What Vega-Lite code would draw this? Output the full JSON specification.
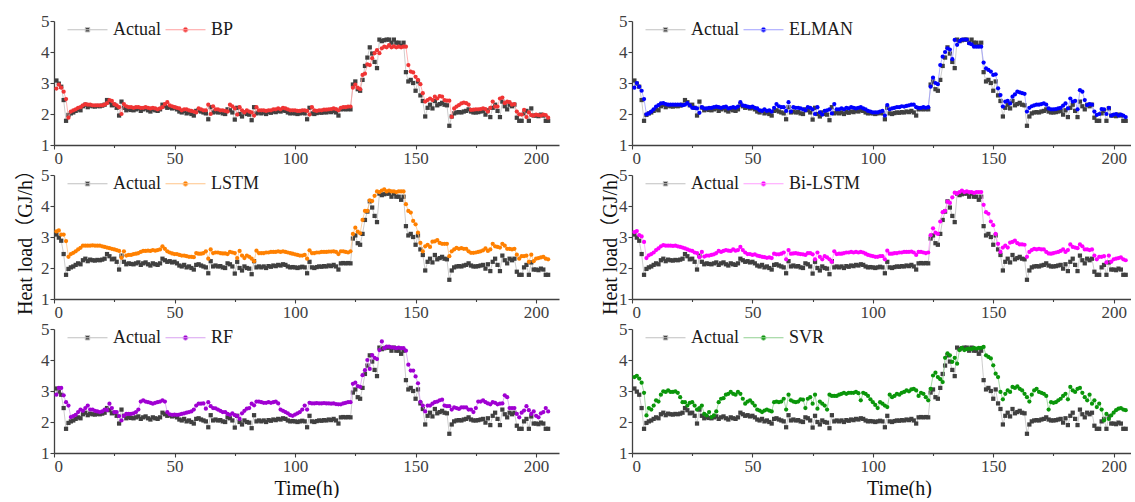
{
"$schema": "https://vega.github.io/schema/vega-lite/v6.json",
"background": "white",
"padding": {"left": 15, "top": 9, "right": 0, "bottom": 0},
"bounds": "flush",
"columns": 2,
"spacing": {"row": 30, "column": 73},
"data": {"values": [
{"t":1,"Actual":3.08,"BP":2.82,"ELMAN":2.85,"LSTM":3.18,"BiLSTM":3.16,"RF":2.88,"SVR":3.45},
{"t":2,"Actual":2.98,"BP":2.95,"ELMAN":3.00,"LSTM":3.21,"BiLSTM":3.19,"RF":3.10,"SVR":3.49},
{"t":3,"Actual":2.88,"BP":2.85,"ELMAN":2.88,"LSTM":3.08,"BiLSTM":3.06,"RF":3.10,"SVR":3.40},
{"t":4,"Actual":2.45,"BP":2.72,"ELMAN":2.75,"LSTM":3.08,"BiLSTM":3.02,"RF":2.86,"SVR":3.27},
{"t":5,"Actual":1.78,"BP":2.48,"ELMAN":2.48,"LSTM":2.87,"BiLSTM":2.84,"RF":2.64,"SVR":2.94},
{"t":6,"Actual":1.97,"BP":1.88,"ELMAN":1.99,"LSTM":2.36,"BiLSTM":2.32,"RF":2.53,"SVR":2.21},
{"t":7,"Actual":2.02,"BP":2.08,"ELMAN":2.02,"LSTM":2.45,"BiLSTM":2.41,"RF":2.16,"SVR":2.45},
{"t":8,"Actual":2.05,"BP":2.12,"ELMAN":2.08,"LSTM":2.49,"BiLSTM":2.45,"RF":2.19,"SVR":2.40},
{"t":9,"Actual":2.10,"BP":2.15,"ELMAN":2.15,"LSTM":2.54,"BiLSTM":2.50,"RF":2.23,"SVR":2.53},
{"t":10,"Actual":2.15,"BP":2.20,"ELMAN":2.24,"LSTM":2.60,"BiLSTM":2.58,"RF":2.32,"SVR":2.70},
{"t":11,"Actual":2.12,"BP":2.22,"ELMAN":2.29,"LSTM":2.65,"BiLSTM":2.63,"RF":2.40,"SVR":2.66},
{"t":12,"Actual":2.25,"BP":2.28,"ELMAN":2.34,"LSTM":2.72,"BiLSTM":2.70,"RF":2.36,"SVR":2.88},
{"t":13,"Actual":2.30,"BP":2.32,"ELMAN":2.35,"LSTM":2.72,"BiLSTM":2.74,"RF":2.45,"SVR":2.99},
{"t":14,"Actual":2.22,"BP":2.30,"ELMAN":2.32,"LSTM":2.72,"BiLSTM":2.72,"RF":2.53,"SVR":2.97},
{"t":15,"Actual":2.27,"BP":2.30,"ELMAN":2.30,"LSTM":2.72,"BiLSTM":2.72,"RF":2.40,"SVR":3.02},
{"t":16,"Actual":2.25,"BP":2.28,"ELMAN":2.30,"LSTM":2.73,"BiLSTM":2.72,"RF":2.40,"SVR":2.97},
{"t":17,"Actual":2.24,"BP":2.28,"ELMAN":2.30,"LSTM":2.72,"BiLSTM":2.71,"RF":2.36,"SVR":2.97},
{"t":18,"Actual":2.26,"BP":2.28,"ELMAN":2.30,"LSTM":2.72,"BiLSTM":2.72,"RF":2.34,"SVR":2.99},
{"t":19,"Actual":2.25,"BP":2.28,"ELMAN":2.30,"LSTM":2.72,"BiLSTM":2.70,"RF":2.32,"SVR":2.94},
{"t":20,"Actual":2.27,"BP":2.28,"ELMAN":2.30,"LSTM":2.70,"BiLSTM":2.68,"RF":2.34,"SVR":2.80},
{"t":21,"Actual":2.30,"BP":2.30,"ELMAN":2.28,"LSTM":2.68,"BiLSTM":2.66,"RF":2.40,"SVR":2.64},
{"t":22,"Actual":2.45,"BP":2.35,"ELMAN":2.30,"LSTM":2.66,"BiLSTM":2.63,"RF":2.38,"SVR":2.64},
{"t":23,"Actual":2.38,"BP":2.45,"ELMAN":2.35,"LSTM":2.64,"BiLSTM":2.60,"RF":2.59,"SVR":2.53},
{"t":24,"Actual":2.28,"BP":2.42,"ELMAN":2.28,"LSTM":2.62,"BiLSTM":2.57,"RF":2.45,"SVR":2.62},
{"t":25,"Actual":2.30,"BP":2.32,"ELMAN":2.20,"LSTM":2.60,"BiLSTM":2.55,"RF":2.32,"SVR":2.64},
{"t":26,"Actual":2.20,"BP":2.28,"ELMAN":2.20,"LSTM":2.58,"BiLSTM":2.50,"RF":2.32,"SVR":2.53},
{"t":27,"Actual":1.95,"BP":2.22,"ELMAN":2.18,"LSTM":2.55,"BiLSTM":2.48,"RF":2.19,"SVR":2.40},
{"t":28,"Actual":2.40,"BP":2.00,"ELMAN":2.04,"LSTM":2.33,"BiLSTM":2.35,"RF":2.05,"SVR":2.45},
{"t":29,"Actual":2.20,"BP":2.32,"ELMAN":2.22,"LSTM":2.54,"BiLSTM":2.52,"RF":2.20,"SVR":2.53},
{"t":30,"Actual":2.12,"BP":2.25,"ELMAN":2.18,"LSTM":2.40,"BiLSTM":2.37,"RF":2.26,"SVR":2.26},
{"t":31,"Actual":2.15,"BP":2.22,"ELMAN":2.18,"LSTM":2.42,"BiLSTM":2.40,"RF":2.26,"SVR":2.21},
{"t":32,"Actual":2.13,"BP":2.22,"ELMAN":2.20,"LSTM":2.42,"BiLSTM":2.40,"RF":2.26,"SVR":2.32},
{"t":33,"Actual":2.12,"BP":2.20,"ELMAN":2.20,"LSTM":2.45,"BiLSTM":2.42,"RF":2.28,"SVR":2.16},
{"t":34,"Actual":2.15,"BP":2.22,"ELMAN":2.22,"LSTM":2.46,"BiLSTM":2.44,"RF":2.32,"SVR":2.21},
{"t":35,"Actual":2.18,"BP":2.22,"ELMAN":2.24,"LSTM":2.48,"BiLSTM":2.48,"RF":2.40,"SVR":2.34},
{"t":36,"Actual":2.10,"BP":2.20,"ELMAN":2.22,"LSTM":2.52,"BiLSTM":2.55,"RF":2.66,"SVR":2.64},
{"t":37,"Actual":2.15,"BP":2.20,"ELMAN":2.20,"LSTM":2.55,"BiLSTM":2.52,"RF":2.70,"SVR":2.75},
{"t":38,"Actual":2.18,"BP":2.22,"ELMAN":2.22,"LSTM":2.55,"BiLSTM":2.55,"RF":2.66,"SVR":2.77},
{"t":39,"Actual":2.12,"BP":2.20,"ELMAN":2.24,"LSTM":2.56,"BiLSTM":2.58,"RF":2.64,"SVR":2.88},
{"t":40,"Actual":2.08,"BP":2.18,"ELMAN":2.18,"LSTM":2.55,"BiLSTM":2.56,"RF":2.62,"SVR":2.91},
{"t":41,"Actual":2.15,"BP":2.20,"ELMAN":2.20,"LSTM":2.58,"BiLSTM":2.55,"RF":2.59,"SVR":2.97},
{"t":42,"Actual":2.12,"BP":2.18,"ELMAN":2.22,"LSTM":2.56,"BiLSTM":2.60,"RF":2.62,"SVR":2.91},
{"t":43,"Actual":2.10,"BP":2.15,"ELMAN":2.20,"LSTM":2.58,"BiLSTM":2.56,"RF":2.64,"SVR":2.88},
{"t":44,"Actual":2.15,"BP":2.18,"ELMAN":2.24,"LSTM":2.60,"BiLSTM":2.58,"RF":2.66,"SVR":2.97},
{"t":45,"Actual":2.30,"BP":2.22,"ELMAN":2.38,"LSTM":2.70,"BiLSTM":2.68,"RF":2.70,"SVR":2.91},
{"t":46,"Actual":2.25,"BP":2.32,"ELMAN":2.28,"LSTM":2.62,"BiLSTM":2.58,"RF":2.66,"SVR":2.75},
{"t":47,"Actual":2.20,"BP":2.38,"ELMAN":2.26,"LSTM":2.54,"BiLSTM":2.50,"RF":2.32,"SVR":2.59},
{"t":48,"Actual":2.22,"BP":2.28,"ELMAN":2.24,"LSTM":2.50,"BiLSTM":2.45,"RF":2.25,"SVR":2.66},
{"t":49,"Actual":2.18,"BP":2.25,"ELMAN":2.22,"LSTM":2.47,"BiLSTM":2.45,"RF":2.23,"SVR":2.70},
{"t":50,"Actual":2.20,"BP":2.22,"ELMAN":2.24,"LSTM":2.45,"BiLSTM":2.42,"RF":2.24,"SVR":2.62},
{"t":51,"Actual":2.15,"BP":2.20,"ELMAN":2.20,"LSTM":2.45,"BiLSTM":2.44,"RF":2.23,"SVR":2.53},
{"t":52,"Actual":2.08,"BP":2.18,"ELMAN":2.18,"LSTM":2.42,"BiLSTM":2.40,"RF":2.24,"SVR":2.40},
{"t":53,"Actual":2.05,"BP":2.12,"ELMAN":2.12,"LSTM":2.40,"BiLSTM":2.38,"RF":2.26,"SVR":2.37},
{"t":54,"Actual":2.10,"BP":2.15,"ELMAN":2.10,"LSTM":2.40,"BiLSTM":2.36,"RF":2.28,"SVR":2.32},
{"t":55,"Actual":2.02,"BP":2.15,"ELMAN":2.15,"LSTM":2.38,"BiLSTM":2.35,"RF":2.30,"SVR":2.37},
{"t":56,"Actual":2.05,"BP":2.12,"ELMAN":2.10,"LSTM":2.36,"BiLSTM":2.33,"RF":2.32,"SVR":2.40},
{"t":57,"Actual":2.00,"BP":2.10,"ELMAN":2.12,"LSTM":2.36,"BiLSTM":2.34,"RF":2.34,"SVR":2.37},
{"t":58,"Actual":1.95,"BP":2.08,"ELMAN":2.08,"LSTM":2.35,"BiLSTM":2.32,"RF":2.40,"SVR":2.34},
{"t":59,"Actual":2.10,"BP":2.05,"ELMAN":2.20,"LSTM":2.48,"BiLSTM":2.46,"RF":2.53,"SVR":2.64},
{"t":60,"Actual":2.12,"BP":2.18,"ELMAN":2.32,"LSTM":2.46,"BiLSTM":2.44,"RF":2.59,"SVR":2.66},
{"t":61,"Actual":2.08,"BP":2.15,"ELMAN":2.25,"LSTM":2.46,"BiLSTM":2.44,"RF":2.59,"SVR":2.64},
{"t":62,"Actual":2.05,"BP":2.12,"ELMAN":2.22,"LSTM":2.48,"BiLSTM":2.46,"RF":2.60,"SVR":2.66},
{"t":63,"Actual":2.02,"BP":2.12,"ELMAN":2.22,"LSTM":2.54,"BiLSTM":2.50,"RF":2.43,"SVR":2.75},
{"t":64,"Actual":1.83,"BP":2.30,"ELMAN":2.10,"LSTM":2.30,"BiLSTM":2.28,"RF":2.64,"SVR":2.40},
{"t":65,"Actual":2.22,"BP":2.00,"ELMAN":2.38,"LSTM":2.60,"BiLSTM":2.58,"RF":2.51,"SVR":2.88},
{"t":66,"Actual":2.05,"BP":2.25,"ELMAN":2.08,"LSTM":2.48,"BiLSTM":2.46,"RF":2.45,"SVR":2.70},
{"t":67,"Actual":2.08,"BP":2.15,"ELMAN":2.22,"LSTM":2.50,"BiLSTM":2.47,"RF":2.44,"SVR":2.66},
{"t":68,"Actual":2.05,"BP":2.15,"ELMAN":2.20,"LSTM":2.50,"BiLSTM":2.48,"RF":2.40,"SVR":2.64},
{"t":69,"Actual":2.06,"BP":2.12,"ELMAN":2.20,"LSTM":2.48,"BiLSTM":2.46,"RF":2.36,"SVR":2.66},
{"t":70,"Actual":2.02,"BP":2.12,"ELMAN":2.18,"LSTM":2.47,"BiLSTM":2.45,"RF":2.32,"SVR":2.73},
{"t":71,"Actual":2.00,"BP":2.10,"ELMAN":2.15,"LSTM":2.47,"BiLSTM":2.44,"RF":2.32,"SVR":2.72},
{"t":72,"Actual":2.15,"BP":2.08,"ELMAN":2.12,"LSTM":2.45,"BiLSTM":2.42,"RF":2.26,"SVR":2.45},
{"t":73,"Actual":2.12,"BP":2.30,"ELMAN":2.22,"LSTM":2.52,"BiLSTM":2.48,"RF":2.23,"SVR":2.75},
{"t":74,"Actual":2.05,"BP":2.25,"ELMAN":2.20,"LSTM":2.50,"BiLSTM":2.48,"RF":2.28,"SVR":2.80},
{"t":75,"Actual":1.82,"BP":2.18,"ELMAN":2.15,"LSTM":2.48,"BiLSTM":2.44,"RF":2.22,"SVR":2.59},
{"t":76,"Actual":2.20,"BP":1.98,"ELMAN":2.00,"LSTM":2.32,"BiLSTM":2.28,"RF":2.20,"SVR":2.88},
{"t":77,"Actual":2.00,"BP":2.22,"ELMAN":2.22,"LSTM":2.55,"BiLSTM":2.50,"RF":2.10,"SVR":2.43},
{"t":78,"Actual":1.92,"BP":2.12,"ELMAN":2.05,"LSTM":2.40,"BiLSTM":2.36,"RF":2.28,"SVR":2.66},
{"t":79,"Actual":2.05,"BP":2.05,"ELMAN":1.98,"LSTM":2.32,"BiLSTM":2.28,"RF":2.36,"SVR":2.59},
{"t":80,"Actual":2.00,"BP":2.12,"ELMAN":2.10,"LSTM":2.40,"BiLSTM":2.38,"RF":2.43,"SVR":2.53},
{"t":81,"Actual":1.98,"BP":2.08,"ELMAN":2.12,"LSTM":2.36,"BiLSTM":2.34,"RF":2.45,"SVR":2.40},
{"t":82,"Actual":1.80,"BP":2.05,"ELMAN":2.15,"LSTM":2.30,"BiLSTM":2.28,"RF":2.59,"SVR":2.88},
{"t":83,"Actual":2.22,"BP":1.95,"ELMAN":2.02,"LSTM":2.22,"BiLSTM":2.20,"RF":2.54,"SVR":2.84},
{"t":84,"Actual":2.02,"BP":2.22,"ELMAN":2.32,"LSTM":2.56,"BiLSTM":2.54,"RF":2.66,"SVR":2.84},
{"t":85,"Actual":2.05,"BP":2.12,"ELMAN":2.15,"LSTM":2.48,"BiLSTM":2.45,"RF":2.66,"SVR":2.84},
{"t":86,"Actual":2.02,"BP":2.12,"ELMAN":2.15,"LSTM":2.48,"BiLSTM":2.46,"RF":2.64,"SVR":2.88},
{"t":87,"Actual":2.05,"BP":2.12,"ELMAN":2.18,"LSTM":2.48,"BiLSTM":2.46,"RF":2.62,"SVR":2.91},
{"t":88,"Actual":2.00,"BP":2.10,"ELMAN":2.15,"LSTM":2.50,"BiLSTM":2.48,"RF":2.62,"SVR":2.94},
{"t":89,"Actual":2.06,"BP":2.12,"ELMAN":2.20,"LSTM":2.50,"BiLSTM":2.50,"RF":2.64,"SVR":2.91},
{"t":90,"Actual":2.04,"BP":2.12,"ELMAN":2.18,"LSTM":2.52,"BiLSTM":2.50,"RF":2.62,"SVR":2.94},
{"t":91,"Actual":2.08,"BP":2.15,"ELMAN":2.22,"LSTM":2.52,"BiLSTM":2.52,"RF":2.64,"SVR":2.94},
{"t":92,"Actual":2.06,"BP":2.15,"ELMAN":2.20,"LSTM":2.52,"BiLSTM":2.50,"RF":2.66,"SVR":2.94},
{"t":93,"Actual":2.10,"BP":2.18,"ELMAN":2.18,"LSTM":2.54,"BiLSTM":2.52,"RF":2.60,"SVR":2.97},
{"t":94,"Actual":2.08,"BP":2.15,"ELMAN":2.20,"LSTM":2.52,"BiLSTM":2.50,"RF":2.40,"SVR":2.93},
{"t":95,"Actual":2.12,"BP":2.20,"ELMAN":2.22,"LSTM":2.54,"BiLSTM":2.52,"RF":2.36,"SVR":2.70},
{"t":96,"Actual":2.10,"BP":2.18,"ELMAN":2.18,"LSTM":2.52,"BiLSTM":2.50,"RF":2.32,"SVR":2.94},
{"t":97,"Actual":2.05,"BP":2.15,"ELMAN":2.15,"LSTM":2.50,"BiLSTM":2.46,"RF":2.28,"SVR":2.91},
{"t":98,"Actual":2.02,"BP":2.12,"ELMAN":2.10,"LSTM":2.48,"BiLSTM":2.42,"RF":2.22,"SVR":2.84},
{"t":99,"Actual":2.03,"BP":2.12,"ELMAN":2.08,"LSTM":2.46,"BiLSTM":2.40,"RF":2.20,"SVR":2.73},
{"t":100,"Actual":2.02,"BP":2.12,"ELMAN":2.05,"LSTM":2.44,"BiLSTM":2.38,"RF":2.24,"SVR":2.64},
{"t":101,"Actual":2.00,"BP":2.10,"ELMAN":2.05,"LSTM":2.42,"BiLSTM":2.36,"RF":2.28,"SVR":2.55},
{"t":102,"Actual":2.02,"BP":2.10,"ELMAN":2.05,"LSTM":2.40,"BiLSTM":2.36,"RF":2.32,"SVR":2.45},
{"t":103,"Actual":2.04,"BP":2.12,"ELMAN":2.08,"LSTM":2.40,"BiLSTM":2.38,"RF":2.40,"SVR":2.64},
{"t":104,"Actual":2.02,"BP":2.12,"ELMAN":2.10,"LSTM":2.42,"BiLSTM":2.38,"RF":2.53,"SVR":2.59},
{"t":105,"Actual":1.83,"BP":2.10,"ELMAN":1.95,"LSTM":2.30,"BiLSTM":2.28,"RF":2.40,"SVR":2.53},
{"t":106,"Actual":2.20,"BP":1.98,"ELMAN":2.29,"LSTM":2.57,"BiLSTM":2.56,"RF":2.62,"SVR":2.48},
{"t":107,"Actual":2.02,"BP":2.22,"ELMAN":2.15,"LSTM":2.48,"BiLSTM":2.46,"RF":2.60,"SVR":2.88},
{"t":108,"Actual":2.00,"BP":2.12,"ELMAN":2.18,"LSTM":2.48,"BiLSTM":2.46,"RF":2.60,"SVR":2.80},
{"t":109,"Actual":2.03,"BP":2.10,"ELMAN":2.20,"LSTM":2.50,"BiLSTM":2.48,"RF":2.61,"SVR":2.84},
{"t":110,"Actual":2.05,"BP":2.12,"ELMAN":2.22,"LSTM":2.50,"BiLSTM":2.48,"RF":2.60,"SVR":2.91},
{"t":111,"Actual":2.04,"BP":2.12,"ELMAN":2.22,"LSTM":2.52,"BiLSTM":2.50,"RF":2.60,"SVR":2.88},
{"t":112,"Actual":2.06,"BP":2.14,"ELMAN":2.25,"LSTM":2.52,"BiLSTM":2.50,"RF":2.61,"SVR":2.94},
{"t":113,"Actual":2.05,"BP":2.14,"ELMAN":2.24,"LSTM":2.52,"BiLSTM":2.52,"RF":2.60,"SVR":2.97},
{"t":114,"Actual":2.08,"BP":2.15,"ELMAN":2.26,"LSTM":2.53,"BiLSTM":2.52,"RF":2.60,"SVR":3.02},
{"t":115,"Actual":2.06,"BP":2.16,"ELMAN":2.28,"LSTM":2.53,"BiLSTM":2.52,"RF":2.59,"SVR":2.99},
{"t":116,"Actual":2.10,"BP":2.18,"ELMAN":2.30,"LSTM":2.54,"BiLSTM":2.53,"RF":2.60,"SVR":3.05},
{"t":117,"Actual":2.05,"BP":2.16,"ELMAN":2.30,"LSTM":2.52,"BiLSTM":2.50,"RF":2.58,"SVR":3.07},
{"t":118,"Actual":1.95,"BP":2.12,"ELMAN":2.22,"LSTM":2.45,"BiLSTM":2.42,"RF":2.57,"SVR":3.02},
{"t":119,"Actual":2.15,"BP":2.20,"ELMAN":2.20,"LSTM":2.54,"BiLSTM":2.52,"RF":2.57,"SVR":2.84},
{"t":120,"Actual":2.16,"BP":2.22,"ELMAN":2.20,"LSTM":2.54,"BiLSTM":2.52,"RF":2.60,"SVR":2.94},
{"t":121,"Actual":2.15,"BP":2.22,"ELMAN":2.22,"LSTM":2.52,"BiLSTM":2.50,"RF":2.62,"SVR":2.91},
{"t":122,"Actual":2.16,"BP":2.24,"ELMAN":2.20,"LSTM":2.50,"BiLSTM":2.48,"RF":2.64,"SVR":2.80},
{"t":123,"Actual":2.15,"BP":2.24,"ELMAN":2.22,"LSTM":2.54,"BiLSTM":2.50,"RF":2.64,"SVR":2.70},
{"t":124,"Actual":2.95,"BP":2.85,"ELMAN":2.88,"LSTM":3.10,"BiLSTM":3.06,"RF":3.23,"SVR":3.07},
{"t":125,"Actual":3.05,"BP":2.95,"ELMAN":3.17,"LSTM":3.30,"BiLSTM":3.28,"RF":3.27,"SVR":3.50},
{"t":126,"Actual":2.80,"BP":2.85,"ELMAN":3.00,"LSTM":3.17,"BiLSTM":3.14,"RF":3.16,"SVR":3.59},
{"t":127,"Actual":2.75,"BP":2.80,"ELMAN":2.96,"LSTM":3.12,"BiLSTM":3.10,"RF":3.13,"SVR":3.45},
{"t":128,"Actual":3.10,"BP":3.26,"ELMAN":3.58,"LSTM":3.55,"BiLSTM":3.50,"RF":3.51,"SVR":3.38},
{"t":129,"Actual":3.55,"BP":3.30,"ELMAN":3.85,"LSTM":3.84,"BiLSTM":3.80,"RF":3.67,"SVR":3.29},
{"t":130,"Actual":3.82,"BP":3.60,"ELMAN":4.00,"LSTM":3.84,"BiLSTM":3.84,"RF":4.00,"SVR":4.07},
{"t":131,"Actual":4.15,"BP":3.58,"ELMAN":4.12,"LSTM":4.18,"BiLSTM":4.14,"RF":3.71,"SVR":4.21},
{"t":132,"Actual":3.95,"BP":3.80,"ELMAN":4.08,"LSTM":4.16,"BiLSTM":4.10,"RF":4.16,"SVR":4.15},
{"t":133,"Actual":3.68,"BP":3.96,"ELMAN":3.77,"LSTM":4.33,"BiLSTM":4.28,"RF":4.07,"SVR":3.94},
{"t":134,"Actual":3.48,"BP":4.06,"ELMAN":4.39,"LSTM":4.47,"BiLSTM":4.43,"RF":4.03,"SVR":4.07},
{"t":135,"Actual":4.40,"BP":3.96,"ELMAN":4.23,"LSTM":4.45,"BiLSTM":4.40,"RF":4.32,"SVR":3.88},
{"t":136,"Actual":4.35,"BP":4.12,"ELMAN":4.35,"LSTM":4.50,"BiLSTM":4.45,"RF":4.60,"SVR":4.32},
{"t":137,"Actual":4.38,"BP":4.17,"ELMAN":4.40,"LSTM":4.54,"BiLSTM":4.50,"RF":4.38,"SVR":4.39},
{"t":138,"Actual":4.40,"BP":4.15,"ELMAN":4.40,"LSTM":4.47,"BiLSTM":4.45,"RF":4.43,"SVR":4.32},
{"t":139,"Actual":4.40,"BP":4.22,"ELMAN":4.40,"LSTM":4.50,"BiLSTM":4.47,"RF":4.43,"SVR":4.35},
{"t":140,"Actual":4.30,"BP":4.15,"ELMAN":4.28,"LSTM":4.47,"BiLSTM":4.45,"RF":4.41,"SVR":4.37},
{"t":141,"Actual":4.40,"BP":4.18,"ELMAN":4.25,"LSTM":4.47,"BiLSTM":4.45,"RF":4.40,"SVR":4.35},
{"t":142,"Actual":4.30,"BP":4.15,"ELMAN":4.17,"LSTM":4.45,"BiLSTM":4.42,"RF":4.38,"SVR":4.39},
{"t":143,"Actual":4.30,"BP":4.17,"ELMAN":4.17,"LSTM":4.47,"BiLSTM":4.45,"RF":4.40,"SVR":4.37},
{"t":144,"Actual":4.20,"BP":4.15,"ELMAN":4.17,"LSTM":4.47,"BiLSTM":4.45,"RF":4.38,"SVR":4.39},
{"t":145,"Actual":4.30,"BP":4.17,"ELMAN":4.17,"LSTM":4.47,"BiLSTM":4.45,"RF":4.38,"SVR":4.39},
{"t":146,"Actual":3.35,"BP":4.17,"ELMAN":3.66,"LSTM":4.06,"BiLSTM":4.04,"RF":4.30,"SVR":4.42},
{"t":147,"Actual":3.05,"BP":3.58,"ELMAN":3.47,"LSTM":3.84,"BiLSTM":3.80,"RF":3.85,"SVR":4.15},
{"t":148,"Actual":3.10,"BP":3.37,"ELMAN":3.42,"LSTM":3.79,"BiLSTM":3.75,"RF":3.66,"SVR":4.10},
{"t":149,"Actual":3.00,"BP":3.34,"ELMAN":3.37,"LSTM":3.52,"BiLSTM":3.50,"RF":3.66,"SVR":4.05},
{"t":150,"Actual":2.75,"BP":3.20,"ELMAN":3.26,"LSTM":3.41,"BiLSTM":3.38,"RF":3.47,"SVR":3.83},
{"t":151,"Actual":3.05,"BP":3.10,"ELMAN":3.28,"LSTM":3.14,"BiLSTM":3.10,"RF":3.25,"SVR":3.56},
{"t":152,"Actual":2.60,"BP":2.96,"ELMAN":2.83,"LSTM":2.81,"BiLSTM":2.78,"RF":2.65,"SVR":3.45},
{"t":153,"Actual":2.42,"BP":2.67,"ELMAN":2.61,"LSTM":2.54,"BiLSTM":2.52,"RF":2.53,"SVR":2.97},
{"t":154,"Actual":1.92,"BP":2.40,"ELMAN":2.24,"LSTM":2.70,"BiLSTM":2.66,"RF":2.34,"SVR":2.73},
{"t":155,"Actual":2.20,"BP":2.45,"ELMAN":2.40,"LSTM":2.75,"BiLSTM":2.72,"RF":2.53,"SVR":2.91},
{"t":156,"Actual":2.30,"BP":2.50,"ELMAN":2.42,"LSTM":2.68,"BiLSTM":2.66,"RF":2.53,"SVR":3.02},
{"t":157,"Actual":2.18,"BP":2.45,"ELMAN":2.34,"LSTM":2.85,"BiLSTM":2.82,"RF":2.59,"SVR":2.97},
{"t":158,"Actual":2.42,"BP":2.56,"ELMAN":2.56,"LSTM":2.86,"BiLSTM":2.84,"RF":2.64,"SVR":3.13},
{"t":159,"Actual":2.28,"BP":2.50,"ELMAN":2.63,"LSTM":2.90,"BiLSTM":2.88,"RF":2.66,"SVR":3.10},
{"t":160,"Actual":2.32,"BP":2.58,"ELMAN":2.72,"LSTM":2.81,"BiLSTM":2.80,"RF":2.70,"SVR":3.15},
{"t":161,"Actual":2.36,"BP":2.56,"ELMAN":2.70,"LSTM":2.78,"BiLSTM":2.76,"RF":2.72,"SVR":3.07},
{"t":162,"Actual":2.30,"BP":2.45,"ELMAN":2.67,"LSTM":2.78,"BiLSTM":2.76,"RF":2.53,"SVR":3.02},
{"t":163,"Actual":2.28,"BP":2.43,"ELMAN":2.65,"LSTM":2.78,"BiLSTM":2.75,"RF":2.51,"SVR":2.91},
{"t":164,"Actual":1.62,"BP":2.43,"ELMAN":2.08,"LSTM":2.38,"BiLSTM":2.36,"RF":2.51,"SVR":2.80},
{"t":165,"Actual":1.92,"BP":1.91,"ELMAN":2.20,"LSTM":2.54,"BiLSTM":2.52,"RF":2.40,"SVR":2.66},
{"t":166,"Actual":2.02,"BP":2.18,"ELMAN":2.25,"LSTM":2.60,"BiLSTM":2.58,"RF":2.47,"SVR":2.88},
{"t":167,"Actual":2.05,"BP":2.24,"ELMAN":2.28,"LSTM":2.65,"BiLSTM":2.62,"RF":2.45,"SVR":3.02},
{"t":168,"Actual":2.06,"BP":2.29,"ELMAN":2.30,"LSTM":2.62,"BiLSTM":2.60,"RF":2.42,"SVR":3.07},
{"t":169,"Actual":2.05,"BP":2.34,"ELMAN":2.30,"LSTM":2.64,"BiLSTM":2.62,"RF":2.47,"SVR":2.97},
{"t":170,"Actual":2.08,"BP":2.37,"ELMAN":2.32,"LSTM":2.62,"BiLSTM":2.60,"RF":2.47,"SVR":2.94},
{"t":171,"Actual":2.10,"BP":2.35,"ELMAN":2.34,"LSTM":2.62,"BiLSTM":2.60,"RF":2.47,"SVR":2.91},
{"t":172,"Actual":2.15,"BP":2.30,"ELMAN":2.30,"LSTM":2.54,"BiLSTM":2.52,"RF":2.40,"SVR":2.84},
{"t":173,"Actual":2.08,"BP":2.13,"ELMAN":2.18,"LSTM":2.49,"BiLSTM":2.47,"RF":2.40,"SVR":2.40},
{"t":174,"Actual":2.05,"BP":2.14,"ELMAN":2.15,"LSTM":2.49,"BiLSTM":2.46,"RF":2.32,"SVR":2.64},
{"t":175,"Actual":2.05,"BP":2.15,"ELMAN":2.15,"LSTM":2.50,"BiLSTM":2.48,"RF":2.45,"SVR":2.62},
{"t":176,"Actual":2.06,"BP":2.15,"ELMAN":2.16,"LSTM":2.52,"BiLSTM":2.50,"RF":2.66,"SVR":2.64},
{"t":177,"Actual":2.08,"BP":2.16,"ELMAN":2.18,"LSTM":2.54,"BiLSTM":2.52,"RF":2.66,"SVR":2.70},
{"t":178,"Actual":2.10,"BP":2.18,"ELMAN":2.20,"LSTM":2.57,"BiLSTM":2.55,"RF":2.70,"SVR":2.75},
{"t":179,"Actual":1.98,"BP":2.16,"ELMAN":2.27,"LSTM":2.63,"BiLSTM":2.60,"RF":2.64,"SVR":2.84},
{"t":180,"Actual":2.12,"BP":2.08,"ELMAN":2.34,"LSTM":2.55,"BiLSTM":2.52,"RF":2.60,"SVR":2.91},
{"t":181,"Actual":1.90,"BP":2.20,"ELMAN":2.18,"LSTM":2.60,"BiLSTM":2.58,"RF":2.57,"SVR":2.73},
{"t":182,"Actual":2.20,"BP":2.40,"ELMAN":2.50,"LSTM":2.78,"BiLSTM":2.76,"RF":2.64,"SVR":3.13},
{"t":183,"Actual":2.30,"BP":2.24,"ELMAN":2.40,"LSTM":2.70,"BiLSTM":2.68,"RF":2.62,"SVR":3.02},
{"t":184,"Actual":2.10,"BP":2.24,"ELMAN":2.42,"LSTM":2.68,"BiLSTM":2.66,"RF":2.57,"SVR":2.97},
{"t":185,"Actual":1.90,"BP":2.50,"ELMAN":2.15,"LSTM":2.66,"BiLSTM":2.64,"RF":2.59,"SVR":3.07},
{"t":186,"Actual":2.40,"BP":2.53,"ELMAN":2.77,"LSTM":2.78,"BiLSTM":2.76,"RF":2.60,"SVR":3.10},
{"t":187,"Actual":2.25,"BP":2.35,"ELMAN":2.72,"LSTM":2.72,"BiLSTM":2.70,"RF":2.86,"SVR":2.94},
{"t":188,"Actual":2.15,"BP":2.40,"ELMAN":2.45,"LSTM":2.62,"BiLSTM":2.60,"RF":2.80,"SVR":2.80},
{"t":189,"Actual":2.30,"BP":2.38,"ELMAN":2.29,"LSTM":2.62,"BiLSTM":2.60,"RF":2.45,"SVR":2.70},
{"t":190,"Actual":2.25,"BP":2.30,"ELMAN":2.32,"LSTM":2.60,"BiLSTM":2.58,"RF":2.45,"SVR":2.88},
{"t":191,"Actual":2.30,"BP":2.32,"ELMAN":2.30,"LSTM":2.62,"BiLSTM":2.60,"RF":2.45,"SVR":2.59},
{"t":192,"Actual":1.88,"BP":2.08,"ELMAN":2.08,"LSTM":2.43,"BiLSTM":2.40,"RF":2.26,"SVR":2.70},
{"t":193,"Actual":1.78,"BP":1.99,"ELMAN":1.97,"LSTM":2.30,"BiLSTM":2.28,"RF":2.15,"SVR":2.48},
{"t":194,"Actual":1.78,"BP":1.98,"ELMAN":2.00,"LSTM":2.38,"BiLSTM":2.36,"RF":2.30,"SVR":2.59},
{"t":195,"Actual":2.02,"BP":2.13,"ELMAN":2.16,"LSTM":2.38,"BiLSTM":2.36,"RF":2.37,"SVR":2.40},
{"t":196,"Actual":2.10,"BP":1.90,"ELMAN":2.15,"LSTM":2.40,"BiLSTM":2.38,"RF":2.51,"SVR":2.05},
{"t":197,"Actual":1.78,"BP":2.05,"ELMAN":2.00,"LSTM":2.20,"BiLSTM":2.18,"RF":2.38,"SVR":2.26},
{"t":198,"Actual":2.18,"BP":1.96,"ELMAN":2.20,"LSTM":2.43,"BiLSTM":2.40,"RF":2.26,"SVR":2.10},
{"t":199,"Actual":1.95,"BP":1.95,"ELMAN":1.95,"LSTM":2.22,"BiLSTM":2.20,"RF":2.34,"SVR":2.21},
{"t":200,"Actual":1.95,"BP":1.98,"ELMAN":1.98,"LSTM":2.30,"BiLSTM":2.28,"RF":2.20,"SVR":2.30},
{"t":201,"Actual":1.93,"BP":1.96,"ELMAN":2.00,"LSTM":2.32,"BiLSTM":2.30,"RF":2.15,"SVR":2.38},
{"t":202,"Actual":1.98,"BP":1.95,"ELMAN":1.95,"LSTM":2.34,"BiLSTM":2.32,"RF":2.28,"SVR":2.43},
{"t":203,"Actual":1.95,"BP":1.98,"ELMAN":1.98,"LSTM":2.36,"BiLSTM":2.34,"RF":2.32,"SVR":2.45},
{"t":204,"Actual":1.78,"BP":1.96,"ELMAN":1.95,"LSTM":2.30,"BiLSTM":2.28,"RF":2.45,"SVR":2.40},
{"t":205,"Actual":1.78,"BP":1.88,"ELMAN":1.90,"LSTM":2.28,"BiLSTM":2.25,"RF":2.34,"SVR":2.38}
]},
"resolve": {"scale": {"color": "independent"}},
"concat": [
 {"width": 505, "height": 124,
  "encoding": {"x": {"field": "t", "type": "quantitative", "scale": {"domain": [0, 209.5], "nice": false, "zero": false}, "axis": {"values": [0,25,50,75,100,125,150,175,200], "labelExpr": "datum.value % 50 === 0 ? datum.label : ''", "tickSize": {"condition": {"test": "datum.value % 50 !== 0", "value": 2.5}, "value": 4}, "title": null}}},
  "layer": [
   {"mark": {"type": "line", "color": "#c0c0c0", "strokeWidth": 0.8}, "encoding": {"y": {"field": "Actual", "type": "quantitative", "scale": {"domain": [1, 5], "nice": false, "zero": false}, "axis": {"values": [1,2,3,4,5], "tickSize": 4, "labelOverlap": false, "labelSeparation": -40, "title": null}}}},
   {"mark": {"type": "point", "shape": "square", "filled": true, "size": 18, "opacity": 1}, "encoding": {"y": {"field": "Actual", "type": "quantitative", "axis": {"values": [1,2,3,4,5], "tickSize": 4, "labelOverlap": false, "labelSeparation": -40, "title": null}}, "color": {"datum": "Actual", "type": "nominal", "scale": {"domain": ["Actual", "BP"], "range": ["#404040", "#f03434"]}, "legend": {"orient": "none", "legendX": 13, "legendY": -12, "encode": {"symbols": {"update": {"shape": {"signal": "datum.value === 'Actual' ? 'M-1,0H1M-0.11,-0.11H0.11V0.11H-0.11Z' : 'M-1,0H1M0.12,0A0.12,0.12 0 1,1 -0.12,0A0.12,0.12 0 1,1 0.12,0Z'"}, "stroke": {"signal": "datum.value === 'Actual' ? '#c0c0c0' : '#ff9e9e'"}, "fill": {"signal": "datum.value === 'Actual' ? '#404040' : '#f03434'"}}}}}}}},
   {"mark": {"type": "line", "color": "#ff9e9e", "strokeWidth": 0.8}, "encoding": {"y": {"field": "BP", "type": "quantitative", "axis": {"values": [1,2,3,4,5], "tickSize": 4, "labelOverlap": false, "labelSeparation": -40, "title": null}}}},
   {"mark": {"type": "point", "shape": "circle", "filled": true, "size": 18, "opacity": 1}, "encoding": {"y": {"field": "BP", "type": "quantitative", "axis": {"values": [1,2,3,4,5], "tickSize": 4, "labelOverlap": false, "labelSeparation": -40, "title": null}}, "color": {"datum": "BP", "type": "nominal"}}}
  ]},
 {"width": 499, "height": 124,
  "encoding": {"x": {"field": "t", "type": "quantitative", "scale": {"domain": [0, 207.2], "nice": false, "zero": false}, "axis": {"values": [0,25,50,75,100,125,150,175,200], "labelExpr": "datum.value % 50 === 0 ? datum.label : ''", "tickSize": {"condition": {"test": "datum.value % 50 !== 0", "value": 2.5}, "value": 4}, "title": null}}},
  "layer": [
   {"mark": {"type": "line", "color": "#c0c0c0", "strokeWidth": 0.8}, "encoding": {"y": {"field": "Actual", "type": "quantitative", "scale": {"domain": [1, 5], "nice": false, "zero": false}, "axis": {"values": [1,2,3,4,5], "tickSize": 4, "labelOverlap": false, "labelSeparation": -40, "title": null}}}},
   {"mark": {"type": "point", "shape": "square", "filled": true, "size": 18, "opacity": 1}, "encoding": {"y": {"field": "Actual", "type": "quantitative", "axis": {"values": [1,2,3,4,5], "tickSize": 4, "labelOverlap": false, "labelSeparation": -40, "title": null}}, "color": {"datum": "Actual", "type": "nominal", "scale": {"domain": ["Actual", "ELMAN"], "range": ["#404040", "#0000ff"]}, "legend": {"orient": "none", "legendX": 13, "legendY": -12, "encode": {"symbols": {"update": {"shape": {"signal": "datum.value === 'Actual' ? 'M-1,0H1M-0.11,-0.11H0.11V0.11H-0.11Z' : 'M-1,0H1M0.12,0A0.12,0.12 0 1,1 -0.12,0A0.12,0.12 0 1,1 0.12,0Z'"}, "stroke": {"signal": "datum.value === 'Actual' ? '#c0c0c0' : '#9e9eff'"}, "fill": {"signal": "datum.value === 'Actual' ? '#404040' : '#0000ff'"}}}}}}}},
   {"mark": {"type": "line", "color": "#9e9eff", "strokeWidth": 0.8}, "encoding": {"y": {"field": "ELMAN", "type": "quantitative", "axis": {"values": [1,2,3,4,5], "tickSize": 4, "labelOverlap": false, "labelSeparation": -40, "title": null}}}},
   {"mark": {"type": "point", "shape": "circle", "filled": true, "size": 18, "opacity": 1}, "encoding": {"y": {"field": "ELMAN", "type": "quantitative", "axis": {"values": [1,2,3,4,5], "tickSize": 4, "labelOverlap": false, "labelSeparation": -40, "title": null}}, "color": {"datum": "ELMAN", "type": "nominal"}}}
  ]},
 {"width": 505, "height": 124,
  "encoding": {"x": {"field": "t", "type": "quantitative", "scale": {"domain": [0, 209.5], "nice": false, "zero": false}, "axis": {"values": [0,25,50,75,100,125,150,175,200], "labelExpr": "datum.value % 50 === 0 ? datum.label : ''", "tickSize": {"condition": {"test": "datum.value % 50 !== 0", "value": 2.5}, "value": 4}, "title": null}}},
  "layer": [
   {"mark": {"type": "line", "color": "#c0c0c0", "strokeWidth": 0.8}, "encoding": {"y": {"field": "Actual", "type": "quantitative", "scale": {"domain": [1, 5], "nice": false, "zero": false}, "axis": {"values": [1,2,3,4,5], "tickSize": 4, "labelOverlap": false, "labelSeparation": -40, "title": "Heat load（GJ/h）", "titlePadding": 5}}}},
   {"mark": {"type": "point", "shape": "square", "filled": true, "size": 18, "opacity": 1}, "encoding": {"y": {"field": "Actual", "type": "quantitative", "axis": {"values": [1,2,3,4,5], "tickSize": 4, "labelOverlap": false, "labelSeparation": -40, "title": "Heat load（GJ/h）", "titlePadding": 5}}, "color": {"datum": "Actual", "type": "nominal", "scale": {"domain": ["Actual", "LSTM"], "range": ["#404040", "#ff8000"]}, "legend": {"orient": "none", "legendX": 13, "legendY": -12, "encode": {"symbols": {"update": {"shape": {"signal": "datum.value === 'Actual' ? 'M-1,0H1M-0.11,-0.11H0.11V0.11H-0.11Z' : 'M-1,0H1M0.12,0A0.12,0.12 0 1,1 -0.12,0A0.12,0.12 0 1,1 0.12,0Z'"}, "stroke": {"signal": "datum.value === 'Actual' ? '#c0c0c0' : '#ffc488'"}, "fill": {"signal": "datum.value === 'Actual' ? '#404040' : '#ff8000'"}}}}}}}},
   {"mark": {"type": "line", "color": "#ffc488", "strokeWidth": 0.8}, "encoding": {"y": {"field": "LSTM", "type": "quantitative", "axis": {"values": [1,2,3,4,5], "tickSize": 4, "labelOverlap": false, "labelSeparation": -40, "title": "Heat load（GJ/h）", "titlePadding": 5}}}},
   {"mark": {"type": "point", "shape": "circle", "filled": true, "size": 18, "opacity": 1}, "encoding": {"y": {"field": "LSTM", "type": "quantitative", "axis": {"values": [1,2,3,4,5], "tickSize": 4, "labelOverlap": false, "labelSeparation": -40, "title": "Heat load（GJ/h）", "titlePadding": 5}}, "color": {"datum": "LSTM", "type": "nominal"}}}
  ]},
 {"width": 499, "height": 124,
  "encoding": {"x": {"field": "t", "type": "quantitative", "scale": {"domain": [0, 207.2], "nice": false, "zero": false}, "axis": {"values": [0,25,50,75,100,125,150,175,200], "labelExpr": "datum.value % 50 === 0 ? datum.label : ''", "tickSize": {"condition": {"test": "datum.value % 50 !== 0", "value": 2.5}, "value": 4}, "title": null}}},
  "layer": [
   {"mark": {"type": "line", "color": "#c0c0c0", "strokeWidth": 0.8}, "encoding": {"y": {"field": "Actual", "type": "quantitative", "scale": {"domain": [1, 5], "nice": false, "zero": false}, "axis": {"values": [1,2,3,4,5], "tickSize": 4, "labelOverlap": false, "labelSeparation": -40, "title": "Heat load（GJ/h）", "titlePadding": -2}}}},
   {"mark": {"type": "point", "shape": "square", "filled": true, "size": 18, "opacity": 1}, "encoding": {"y": {"field": "Actual", "type": "quantitative", "axis": {"values": [1,2,3,4,5], "tickSize": 4, "labelOverlap": false, "labelSeparation": -40, "title": "Heat load（GJ/h）", "titlePadding": -2}}, "color": {"datum": "Actual", "type": "nominal", "scale": {"domain": ["Actual", "Bi-LSTM"], "range": ["#404040", "#ff00ff"]}, "legend": {"orient": "none", "legendX": 13, "legendY": -12, "encode": {"symbols": {"update": {"shape": {"signal": "datum.value === 'Actual' ? 'M-1,0H1M-0.11,-0.11H0.11V0.11H-0.11Z' : 'M-1,0H1M0.12,0A0.12,0.12 0 1,1 -0.12,0A0.12,0.12 0 1,1 0.12,0Z'"}, "stroke": {"signal": "datum.value === 'Actual' ? '#c0c0c0' : '#ff9eff'"}, "fill": {"signal": "datum.value === 'Actual' ? '#404040' : '#ff00ff'"}}}}}}}},
   {"mark": {"type": "line", "color": "#ff9eff", "strokeWidth": 0.8}, "encoding": {"y": {"field": "BiLSTM", "type": "quantitative", "axis": {"values": [1,2,3,4,5], "tickSize": 4, "labelOverlap": false, "labelSeparation": -40, "title": "Heat load（GJ/h）", "titlePadding": -2}}}},
   {"mark": {"type": "point", "shape": "circle", "filled": true, "size": 18, "opacity": 1}, "encoding": {"y": {"field": "BiLSTM", "type": "quantitative", "axis": {"values": [1,2,3,4,5], "tickSize": 4, "labelOverlap": false, "labelSeparation": -40, "title": "Heat load（GJ/h）", "titlePadding": -2}}, "color": {"datum": "Bi-LSTM", "type": "nominal"}}}
  ]},
 {"width": 505, "height": 124,
  "encoding": {"x": {"field": "t", "type": "quantitative", "scale": {"domain": [0, 209.5], "nice": false, "zero": false}, "axis": {"values": [0,25,50,75,100,125,150,175,200], "labelExpr": "datum.value % 50 === 0 ? datum.label : ''", "tickSize": {"condition": {"test": "datum.value % 50 !== 0", "value": 2.5}, "value": 4}, "title": "Time(h)", "titlePadding": 4}}},
  "layer": [
   {"mark": {"type": "line", "color": "#c0c0c0", "strokeWidth": 0.8}, "encoding": {"y": {"field": "Actual", "type": "quantitative", "scale": {"domain": [1, 5], "nice": false, "zero": false}, "axis": {"values": [1,2,3,4,5], "tickSize": 4, "labelOverlap": false, "labelSeparation": -40, "title": null}}}},
   {"mark": {"type": "point", "shape": "square", "filled": true, "size": 18, "opacity": 1}, "encoding": {"y": {"field": "Actual", "type": "quantitative", "axis": {"values": [1,2,3,4,5], "tickSize": 4, "labelOverlap": false, "labelSeparation": -40, "title": null}}, "color": {"datum": "Actual", "type": "nominal", "scale": {"domain": ["Actual", "RF"], "range": ["#404040", "#a000d2"]}, "legend": {"orient": "none", "legendX": 13, "legendY": -12, "encode": {"symbols": {"update": {"shape": {"signal": "datum.value === 'Actual' ? 'M-1,0H1M-0.11,-0.11H0.11V0.11H-0.11Z' : 'M-1,0H1M0.12,0A0.12,0.12 0 1,1 -0.12,0A0.12,0.12 0 1,1 0.12,0Z'"}, "stroke": {"signal": "datum.value === 'Actual' ? '#c0c0c0' : '#d8a0f0'"}, "fill": {"signal": "datum.value === 'Actual' ? '#404040' : '#a000d2'"}}}}}}}},
   {"mark": {"type": "line", "color": "#d8a0f0", "strokeWidth": 0.8}, "encoding": {"y": {"field": "RF", "type": "quantitative", "axis": {"values": [1,2,3,4,5], "tickSize": 4, "labelOverlap": false, "labelSeparation": -40, "title": null}}}},
   {"mark": {"type": "point", "shape": "circle", "filled": true, "size": 18, "opacity": 1}, "encoding": {"y": {"field": "RF", "type": "quantitative", "axis": {"values": [1,2,3,4,5], "tickSize": 4, "labelOverlap": false, "labelSeparation": -40, "title": null}}, "color": {"datum": "RF", "type": "nominal"}}}
  ]},
 {"width": 499, "height": 124,
  "encoding": {"x": {"field": "t", "type": "quantitative", "scale": {"domain": [0, 207.2], "nice": false, "zero": false}, "axis": {"values": [0,25,50,75,100,125,150,175,200], "labelExpr": "datum.value % 50 === 0 ? datum.label : ''", "tickSize": {"condition": {"test": "datum.value % 50 !== 0", "value": 2.5}, "value": 4}, "title": "Time(h)", "titlePadding": 4, "titleX": 267}}},
  "layer": [
   {"mark": {"type": "line", "color": "#c0c0c0", "strokeWidth": 0.8}, "encoding": {"y": {"field": "Actual", "type": "quantitative", "scale": {"domain": [1, 5], "nice": false, "zero": false}, "axis": {"values": [1,2,3,4,5], "tickSize": 4, "labelOverlap": false, "labelSeparation": -40, "title": null}}}},
   {"mark": {"type": "point", "shape": "square", "filled": true, "size": 18, "opacity": 1}, "encoding": {"y": {"field": "Actual", "type": "quantitative", "axis": {"values": [1,2,3,4,5], "tickSize": 4, "labelOverlap": false, "labelSeparation": -40, "title": null}}, "color": {"datum": "Actual", "type": "nominal", "scale": {"domain": ["Actual", "SVR"], "range": ["#404040", "#0a960a"]}, "legend": {"orient": "none", "legendX": 13, "legendY": -12, "encode": {"symbols": {"update": {"shape": {"signal": "datum.value === 'Actual' ? 'M-1,0H1M-0.11,-0.11H0.11V0.11H-0.11Z' : 'M-1,0H1M0.12,0A0.12,0.12 0 1,1 -0.12,0A0.12,0.12 0 1,1 0.12,0Z'"}, "stroke": {"signal": "datum.value === 'Actual' ? '#c0c0c0' : '#90d090'"}, "fill": {"signal": "datum.value === 'Actual' ? '#404040' : '#0a960a'"}}}}}}}},
   {"mark": {"type": "line", "color": "#90d090", "strokeWidth": 0.8}, "encoding": {"y": {"field": "SVR", "type": "quantitative", "axis": {"values": [1,2,3,4,5], "tickSize": 4, "labelOverlap": false, "labelSeparation": -40, "title": null}}}},
   {"mark": {"type": "point", "shape": "circle", "filled": true, "size": 18, "opacity": 1}, "encoding": {"y": {"field": "SVR", "type": "quantitative", "axis": {"values": [1,2,3,4,5], "tickSize": 4, "labelOverlap": false, "labelSeparation": -40, "title": null}}, "color": {"datum": "SVR", "type": "nominal"}}}
  ]}
],
"config": {
 "view": {"stroke": null},
 "axis": {"grid": false, "domainColor": "#404040", "domainWidth": 1.3, "tickColor": "#404040", "tickWidth": 1.1, "labelColor": "#404040", "labelFont": "Liberation Serif", "labelFontSize": 17, "labelPadding": 1, "titleFont": "Liberation Serif, Noto Sans CJK SC", "titleFontSize": 20, "titleFontWeight": "normal", "titleColor": "#111111"},
 "axisY": {"labelOverlap": false},
 "legend": {"direction": "horizontal", "title": null, "padding": 0, "symbolSize": 1600, "symbolStrokeWidth": 1, "symbolOpacity": 1, "labelFont": "Liberation Serif", "labelFontSize": 18, "labelColor": "#1a1a1a", "labelOffset": 5, "columnPadding": 2}
}
}
